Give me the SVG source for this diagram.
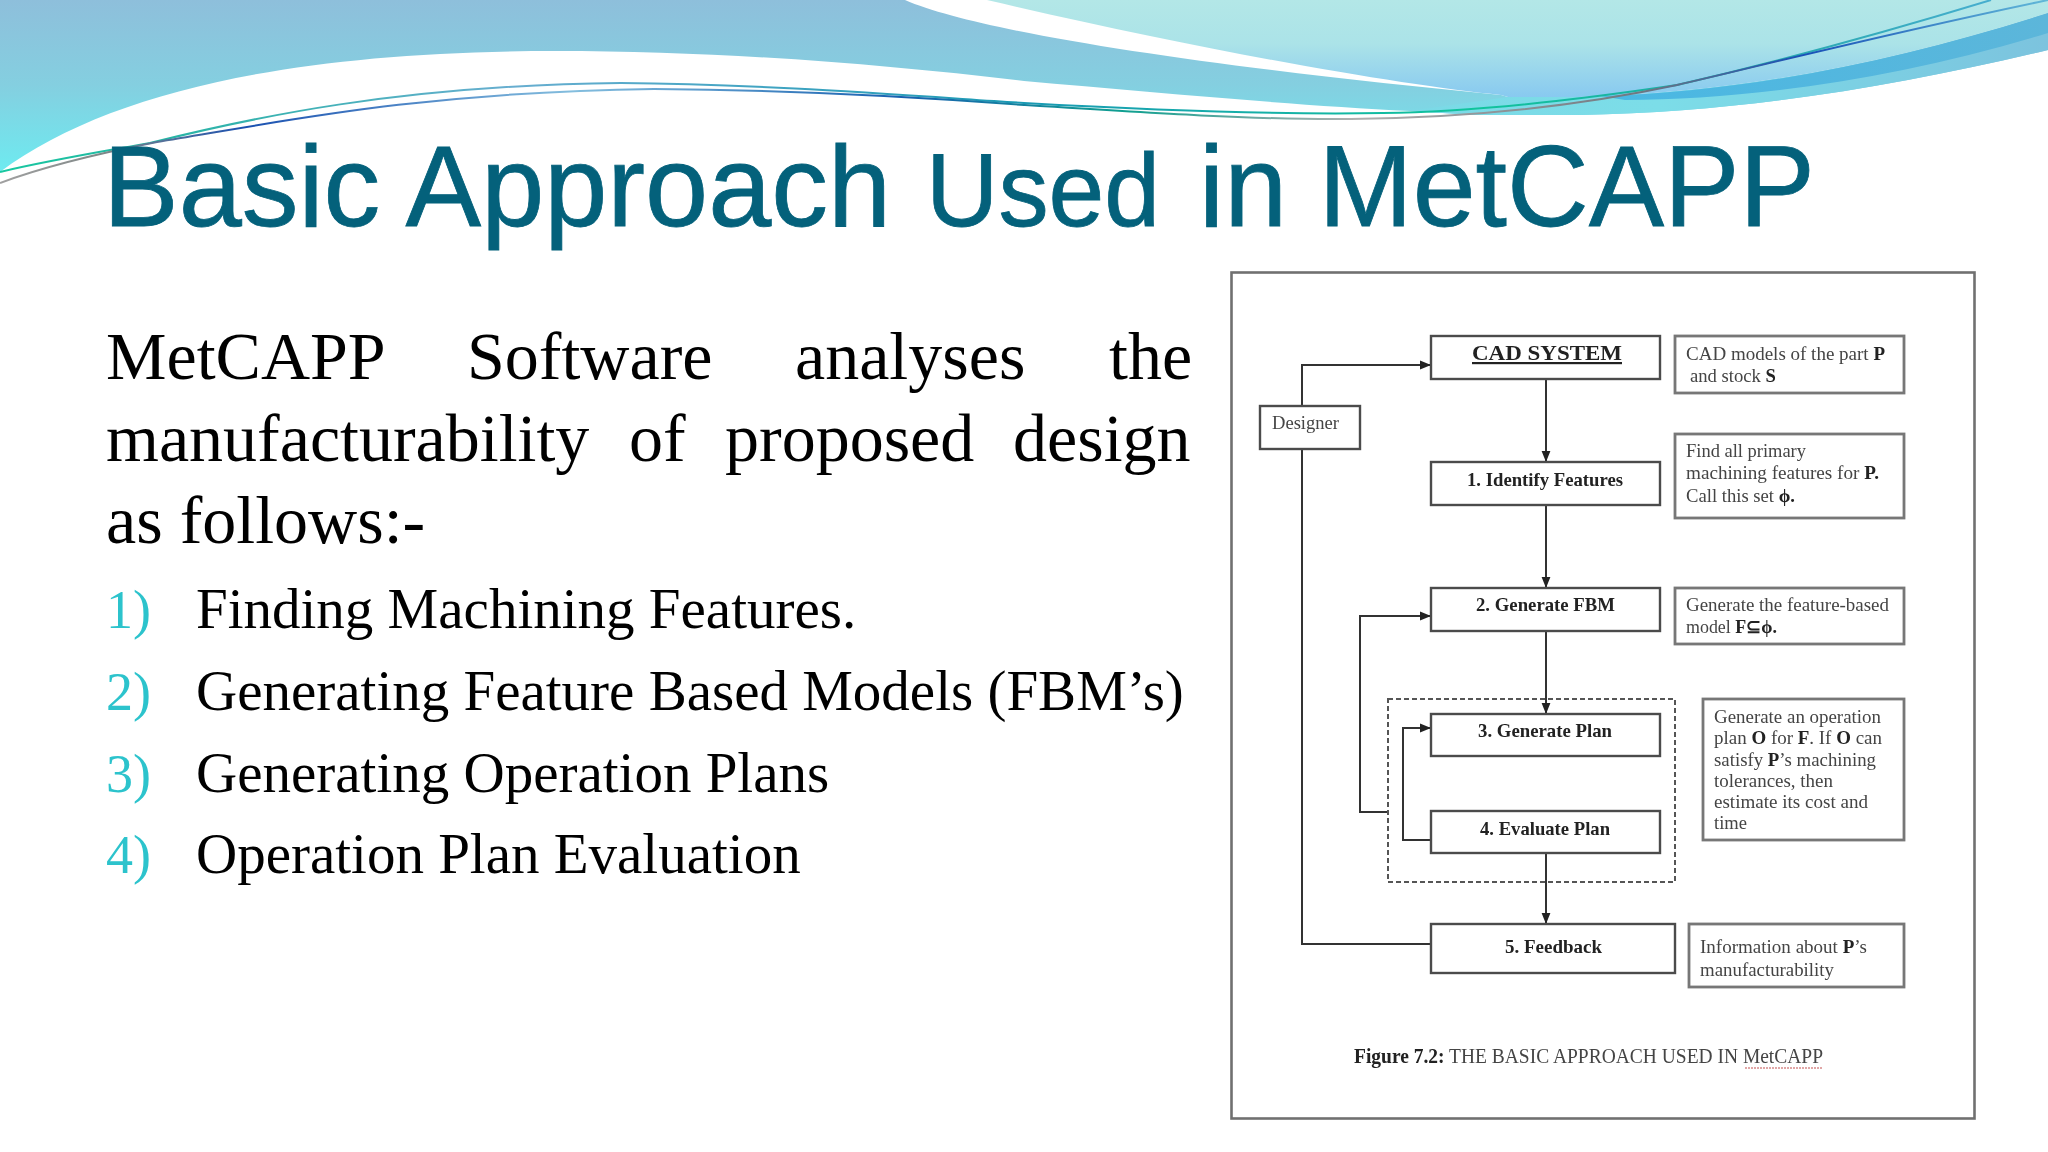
<svg xmlns="http://www.w3.org/2000/svg" width="2048" height="1152" viewBox="0 0 2048 1152">
<defs>
<linearGradient id="bl" gradientUnits="userSpaceOnUse" x1="0" y1="0" x2="0" y2="170"><stop offset="0" stop-color="#8ebfdb"/><stop offset="0.5" stop-color="#84cfe0"/><stop offset="1" stop-color="#6eeaf0"/></linearGradient>
<linearGradient id="lt" gradientUnits="userSpaceOnUse" x1="0" y1="0" x2="0" y2="97"><stop offset="0" stop-color="#b3e7e7"/><stop offset="0.45" stop-color="#abe3e8"/><stop offset="1" stop-color="#88c9f0"/></linearGradient>
<linearGradient id="sw" gradientUnits="userSpaceOnUse" x1="1400" y1="0" x2="2048" y2="0"><stop offset="0" stop-color="#7bd9e6"/><stop offset="0.4" stop-color="#7cdde8"/><stop offset="1" stop-color="#7cc3de"/></linearGradient>
<linearGradient id="sd" gradientUnits="userSpaceOnUse" x1="1580" y1="0" x2="2048" y2="0"><stop offset="0" stop-color="#48b8e4"/><stop offset="1" stop-color="#5cb6da"/></linearGradient>
<linearGradient id="s1" gradientUnits="userSpaceOnUse" x1="0" y1="0" x2="2048" y2="0"><stop offset="0" stop-color="#18c8a0"/><stop offset="0.08" stop-color="#26b4a4"/><stop offset="0.25" stop-color="#68aed0"/><stop offset="0.5" stop-color="#1a9ab4"/><stop offset="0.72" stop-color="#10c49c"/><stop offset="0.85" stop-color="#20a8a8"/><stop offset="1" stop-color="#50b0d8"/></linearGradient>
<linearGradient id="s2" gradientUnits="userSpaceOnUse" x1="0" y1="0" x2="2048" y2="0"><stop offset="0" stop-color="#a0a0a0"/><stop offset="0.05" stop-color="#808888"/><stop offset="0.12" stop-color="#1a50b0"/><stop offset="0.28" stop-color="#84bede"/><stop offset="0.44" stop-color="#1860b0"/><stop offset="0.55" stop-color="#10a090"/><stop offset="0.66" stop-color="#b0b0b0"/><stop offset="0.8" stop-color="#707880"/><stop offset="0.88" stop-color="#1850b8"/><stop offset="1" stop-color="#60b8d8"/></linearGradient>
<marker id="ah" viewBox="0 0 10 10" refX="10" refY="5" markerWidth="11" markerHeight="11" markerUnits="userSpaceOnUse" orient="auto"><path d="M0 1 L10 5 L0 9 Z" fill="#222"/></marker>
<filter id="soft" x="-2%" y="-2%" width="104%" height="104%"><feGaussianBlur stdDeviation="0.75"/></filter>
</defs>
<style>
.ttl{font-family:"Liberation Sans",Arial,sans-serif;fill:#04617b;stroke:#04617b;stroke-width:0.8}
.bd{font-family:"Liberation Serif","Times New Roman",serif;fill:#000;font-size:68px}
.li{font-family:"Liberation Serif","Times New Roman",serif;fill:#000;font-size:57px}
.num{font-family:"Liberation Serif","Times New Roman",serif;fill:#2cc3cc;font-size:54px}
.box{fill:#fff;stroke:#4c4c4c;stroke-width:2.4}
.nt{fill:#fff;stroke:#777;stroke-width:2.8}
.lbl{font-family:"Liberation Serif","Times New Roman",serif;font-weight:bold;fill:#222;font-size:19px}
.txt{font-family:"Liberation Serif","Times New Roman",serif;fill:#444;font-size:19px}
.txt tspan{font-weight:bold;fill:#222}
.cn{fill:none;stroke:#333;stroke-width:2}
</style>
<rect width="2048" height="1152" fill="#fff"/>
<g id="banner">
<path d="M0 172 C110 90 300 51 555 51 C720 51 880 64 1024 81 C1150 92 1290 105 1410 111 L1475 115 L1580 115 C1750 112 1900 85 2048 50 V13 C1900 60 1750 92 1580 97 L1508 97 L1501 95 C1240 70 985 35 905 0 H0 Z" fill="url(#bl)"/>
<path d="M1410 111 L1475 115 L1580 115 C1750 112 1900 85 2048 50 V13 C1900 60 1750 92 1580 97 L1508 97 Z" fill="url(#sw)"/>
<path d="M987 0 H2048 V13 C1900 60 1750 92 1580 97 L1508 97 L1501 95 C1400 85 1200 50 987 0 Z" fill="url(#lt)"/>
<path d="M1600 96 C1750 92 1900 60 2048 13 V33 C1900 78 1750 100 1625 100 Z" fill="url(#sd)"/>
</g>
<g id="strands" fill="none">
<path d="M0 172 C50 160 100 152 150 143 C250 118 400 85 621 83 C760 84 900 95 1024 103 C1150 110 1280 115 1383 113 C1480 112 1590 98 1677 85 C1750 68 1860 40 1991 0" stroke="url(#s1)" stroke-width="2"/>
<path d="M0 183 C40 168 90 155 157 142 C280 122 420 92 654 89 C800 90 920 97 1024 105 C1150 113 1260 120 1351 119 C1450 118 1560 110 1677 85 C1760 66 1880 35 2048 0" stroke="url(#s2)" stroke-width="2"/>
</g>
<text class="ttl" x="103" y="226" font-size="115" textLength="788" lengthAdjust="spacingAndGlyphs">Basic Approach</text>
<text class="ttl" x="926" y="226" font-size="104" textLength="234" lengthAdjust="spacingAndGlyphs">Used</text>
<text class="ttl" x="1199" y="226" font-size="115" textLength="616" lengthAdjust="spacingAndGlyphs">in MetCAPP</text>
<g id="body">
<text class="bd" x="106" y="379">MetCAPP</text>
<text class="bd" x="467" y="379">Software</text>
<text class="bd" x="795" y="379">analyses</text>
<text class="bd" x="1109" y="379">the</text>
<text class="bd" x="106" y="461">manufacturability</text>
<text class="bd" x="629" y="461">of</text>
<text class="bd" x="725" y="461">proposed</text>
<text class="bd" x="1013" y="461">design</text>
<text class="bd" x="106" y="543">as follows:-</text>
<text class="num" x="106" y="628">1)</text><text class="li" x="196" y="628">Finding Machining Features.</text>
<text class="num" x="106" y="710">2)</text><text class="li" x="196" y="710">Generating Feature Based Models (FBM’s)</text>
<text class="num" x="106" y="792">3)</text><text class="li" x="196" y="792">Generating Operation Plans</text>
<text class="num" x="106" y="873">4)</text><text class="li" x="196" y="873">Operation Plan Evaluation</text>
</g>
<g id="figure" filter="url(#soft)">
<rect id="frame" x="1231.500" y="272.500" width="743" height="846" fill="#fff" stroke="#707070" stroke-width="2.600"/>
<g id="connectors">
<path class="cn" d="M1302 406 V365 H1431" marker-end="url(#ah)"/>
<path class="cn" d="M1302 449 V944 H1431"/>
<path class="cn" d="M1546 379 V462" marker-end="url(#ah)"/>
<path class="cn" d="M1546 505 V588" marker-end="url(#ah)"/>
<path class="cn" d="M1546 631 V714" marker-end="url(#ah)"/>
<path class="cn" d="M1388 812 H1360 V616 H1431" marker-end="url(#ah)"/>
<path class="cn" d="M1431 840 H1403 V728 H1431" marker-end="url(#ah)"/>
<path class="cn" d="M1546 853 V924" marker-end="url(#ah)"/>
</g>
<rect id="dashed-group" x="1388" y="699" width="287" height="183" fill="none" stroke="#555" stroke-width="2" stroke-dasharray="5 3"/>
<g id="n-designer"><rect class="box" x="1260" y="406" width="100" height="43"/><text class="txt" x="1272" y="429" textLength="67" lengthAdjust="spacingAndGlyphs">Designer</text></g>
<g id="n-cad"><rect class="box" x="1431" y="336" width="229" height="43"/><text class="lbl" x="1472" y="360" textLength="150" lengthAdjust="spacingAndGlyphs" style="font-size:22px;text-decoration:underline">CAD SYSTEM</text></g>
<g id="n-cad-note"><rect class="nt" x="1675" y="336" width="229" height="57"/><text class="txt" x="1686" y="360" textLength="199" lengthAdjust="spacingAndGlyphs">CAD models of the part <tspan>P</tspan></text><text class="txt" x="1690" y="382" textLength="86" lengthAdjust="spacingAndGlyphs">and stock <tspan>S</tspan></text></g>
<g id="n-identify"><rect class="box" x="1431" y="462" width="229" height="43"/><text class="lbl" x="1467" y="486" textLength="156" lengthAdjust="spacingAndGlyphs">1. Identify Features</text></g>
<g id="n-identify-note"><rect class="nt" x="1675" y="434" width="229" height="84"/><text class="txt" x="1686" y="457" textLength="120" lengthAdjust="spacingAndGlyphs">Find all primary</text><text class="txt" x="1686" y="479" textLength="193" lengthAdjust="spacingAndGlyphs">machining features for <tspan>P.</tspan></text><text class="txt" x="1686" y="502" textLength="109" lengthAdjust="spacingAndGlyphs">Call this set <tspan>ϕ.</tspan></text></g>
<g id="n-fbm"><rect class="box" x="1431" y="588" width="229" height="43"/><text class="lbl" x="1476" y="611" textLength="139" lengthAdjust="spacingAndGlyphs">2. Generate FBM</text></g>
<g id="n-fbm-note"><rect class="nt" x="1675" y="588" width="229" height="56"/><text class="txt" x="1686" y="611" textLength="203" lengthAdjust="spacingAndGlyphs">Generate the feature-based</text><text class="txt" x="1686" y="633" textLength="91" lengthAdjust="spacingAndGlyphs">model <tspan>F⊆ϕ.</tspan></text></g>
<g id="n-plan"><rect class="box" x="1431" y="714" width="229" height="42"/><text class="lbl" x="1478" y="737" textLength="134" lengthAdjust="spacingAndGlyphs">3. Generate Plan</text></g>
<g id="n-eval"><rect class="box" x="1431" y="811" width="229" height="42"/><text class="lbl" x="1480" y="835" textLength="130" lengthAdjust="spacingAndGlyphs">4. Evaluate Plan</text></g>
<g id="n-plan-note"><rect class="nt" x="1703" y="699" width="201" height="141"/>
<text class="txt" x="1714" y="723" textLength="167" lengthAdjust="spacingAndGlyphs">Generate an operation</text>
<text class="txt" x="1714" y="744" textLength="168" lengthAdjust="spacingAndGlyphs">plan <tspan>O</tspan> for <tspan>F</tspan>. If <tspan>O</tspan> can</text>
<text class="txt" x="1714" y="766" textLength="162" lengthAdjust="spacingAndGlyphs">satisfy <tspan>P</tspan>’s machining</text>
<text class="txt" x="1714" y="787" textLength="119" lengthAdjust="spacingAndGlyphs">tolerances, then</text>
<text class="txt" x="1714" y="808" textLength="154" lengthAdjust="spacingAndGlyphs">estimate its cost and</text>
<text class="txt" x="1714" y="829" textLength="33" lengthAdjust="spacingAndGlyphs">time</text></g>
<g id="n-feedback"><rect class="box" x="1431" y="924" width="244" height="49"/><text class="lbl" x="1505" y="953" textLength="97" lengthAdjust="spacingAndGlyphs">5. Feedback</text></g>
<g id="n-feedback-note"><rect class="nt" x="1689" y="924" width="215" height="63"/><text class="txt" x="1700" y="953" textLength="167" lengthAdjust="spacingAndGlyphs">Information about <tspan>P</tspan>’s</text><text class="txt" x="1700" y="976" textLength="134" lengthAdjust="spacingAndGlyphs">manufacturability</text></g>
<text id="caption" class="txt" x="1354" y="1063" textLength="469" lengthAdjust="spacingAndGlyphs" style="font-size:20px"><tspan>Figure 7.2:</tspan> THE BASIC APPROACH USED IN MetCAPP</text>
<path d="M1745 1068 H1823" fill="none" stroke="#d88a8a" stroke-width="1.500" stroke-dasharray="2 1"/>
</g>
</svg>
